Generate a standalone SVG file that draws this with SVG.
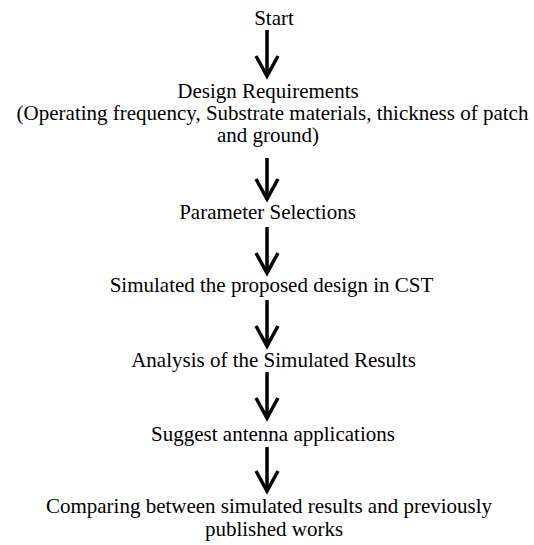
<svg xmlns="http://www.w3.org/2000/svg" width="534" height="545" viewBox="0 0 534 545">
<style>
text{font-family:"Liberation Serif","Times New Roman",serif;font-size:21px;fill:#000;text-anchor:middle}
.c{stroke:#000;stroke-width:3.5;fill:none;marker-end:url(#ah)}
</style>
<defs>
<marker id="ah" markerUnits="userSpaceOnUse" markerWidth="30" markerHeight="30" viewBox="-24 -15 30 30" refX="0" refY="0" orient="auto" overflow="visible">
<path d="M-20,-11L0,0L-20,11" fill="none" stroke="#000" stroke-width="3.5" stroke-linejoin="miter" stroke-miterlimit="10"/>
</marker>
</defs>
<g id="connectors">
<path class="c" d="M267 30V76"/>
<path class="c" d="M267 158V199"/>
<path class="c" d="M267 227V273"/>
<path class="c" d="M267 300V346"/>
<path class="c" d="M267 372V418"/>
<path class="c" d="M267 447V491"/>
</g>
<g id="start"><text x="274" y="25">Start</text></g>
<g id="design"><text x="268" y="98">Design Requirements</text><text x="272.5" y="120">(Operating frequency, Substrate materials, thickness of patch</text><text x="268" y="142">and ground)</text></g>
<g id="param"><text x="267.5" y="219">Parameter Selections</text></g>
<g id="simulate"><text x="271.5" y="292">Simulated the proposed design in CST</text></g>
<g id="analysis"><text x="273.5" y="367">Analysis of the Simulated Results</text></g>
<g id="suggest"><text x="273" y="441">Suggest antenna applications</text></g>
<g id="compare"><text x="269" y="513">Comparing between simulated results and previously</text><text x="274" y="536">published works</text></g>
</svg>
